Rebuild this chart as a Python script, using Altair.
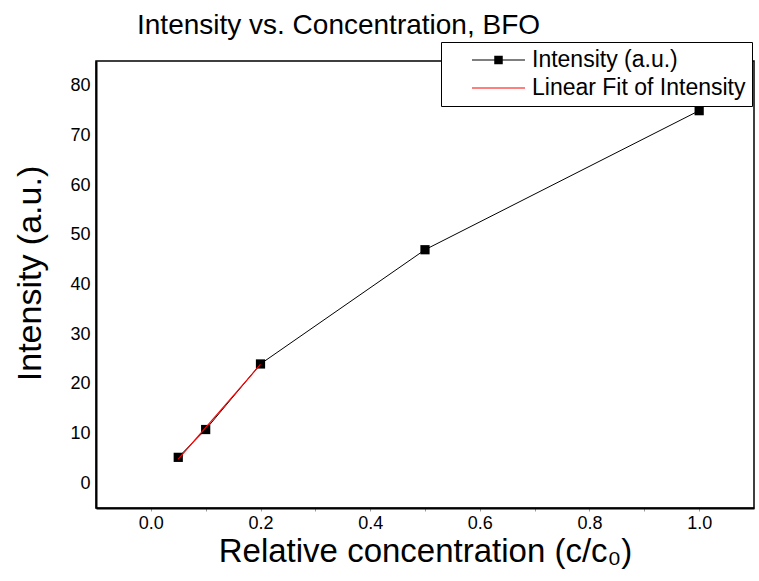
import altair as alt
import pandas as pd

# ---- data ----
conc = [0.05, 0.1, 0.2, 0.5, 1.0]
intensity = [5.2, 10.8, 24.0, 47.0, 75.0]
fit_x = [0.05, 0.2]
fit_y = [4.85, 23.9]
series_names = ["Intensity (a.u.)", "Linear Fit of Intensity"]
series_colors = ["black", "#ff0000"]
x_ticks = [0.0, 0.1, 0.2, 0.3, 0.4, 0.5, 0.6, 0.7, 0.8, 0.9, 1.0]
y_ticks = [0, 10, 20, 30, 40, 50, 60, 70, 80]

FONT = "Liberation Sans"

df = pd.DataFrame({"c": conc, "I": intensity})
fit = pd.DataFrame({"c": fit_x, "I": fit_y})
leg = pd.DataFrame({"series": series_names,
                    "c": [conc[0]] * len(series_names),
                    "I": [intensity[0]] * len(series_names)})

x_scale = alt.Scale(domain=[-0.1, 1.1], nice=False, zero=False)
y_scale = alt.Scale(domain=[-5, 85], nice=False, zero=False)

x_enc = alt.X(
    "c:Q", scale=x_scale,
    axis=alt.Axis(
        values=x_ticks,
        labelExpr="round(datum.value*10) % 2 === 0 ? format(datum.value, '.1f') : ''",
        title="Relative concentration (c/c\u2080)",
        tickSize=3, tickColor="#9a9a9a", tickWidth=1,
        labelPadding=3, titlePadding=3,
        labelFlush=False,
    ),
)
y_enc = alt.Y(
    "I:Q", scale=y_scale,
    axis=alt.Axis(
        values=y_ticks, format="d", title="Intensity (a.u.)",
        ticks=False, tickSize=0, labelPadding=6,
        titleX=-49, titleY=212, titleFontSize=34,
    ),
)

line = alt.Chart(df).mark_line(color="black", strokeWidth=1).encode(x=x_enc, y=y_enc)
pts = alt.Chart(df).mark_point(shape="square", filled=True, color="black",
                               size=85, opacity=1).encode(x=x_enc, y=y_enc)
fitl = alt.Chart(fit).mark_line(color="#ff0000", strokeWidth=1.2).encode(x=x_enc, y=y_enc)

# legend symbols drawn as filled paths: thin bar (+ square for the data series)
path_pts = "M-2.208,-0.045H2.208V0.045H-2.208ZM-0.354,-0.354H0.354V0.354H-0.354Z"
path_fit = "M-2.208,-0.05H2.208V0.05H-2.208Z"

legend = alt.Legend(
    title=None, orient="none", legendX=345, legendY=-19,
    strokeColor="black", fillColor="white",
    padding=6, rowPadding=4,
    symbolSize=576, symbolOffset=39.5, labelOffset=21.5,
    labelFontSize=23, labelFont=FONT, labelColor="black", labelLimit=400,
    symbolStrokeWidth=0, symbolOpacity=1,
)

legl = alt.Chart(leg).mark_point(opacity=0, filled=True).encode(
    x=x_enc, y=y_enc,
    color=alt.Color("series:N", scale=alt.Scale(domain=series_names, range=series_colors),
                    legend=legend),
    shape=alt.Shape("series:N", scale=alt.Scale(domain=series_names, range=[path_pts, path_fit]),
                    legend=legend),
)

chart = (
    alt.layer(line, pts, fitl, legl)
    .properties(
        width=658, height=447,
        background="white",
        title=alt.TitleParams(
            "Intensity vs. Concentration, BFO", anchor="start", frame="group",
            dx=41, dy=29, offset=9, baseline="alphabetic",
            fontSize=28, font=FONT, fontWeight="normal", color="black",
        ),
        autosize=alt.AutoSizeParams(type="none"),
        padding={"left": 96, "top": 61, "right": 5, "bottom": 73},
    )
    .configure_view(stroke="black", strokeWidth=1.5)
    .configure_axis(
        grid=False, domainColor="black", domainWidth=2,
        labelFont=FONT, labelFontSize=18, labelColor="black",
        titleFont=FONT, titleFontSize=33, titleFontWeight="normal", titleColor="black",
    )
)

chart.save("out.html", embed_options={"renderer": "svg", "actions": False})
